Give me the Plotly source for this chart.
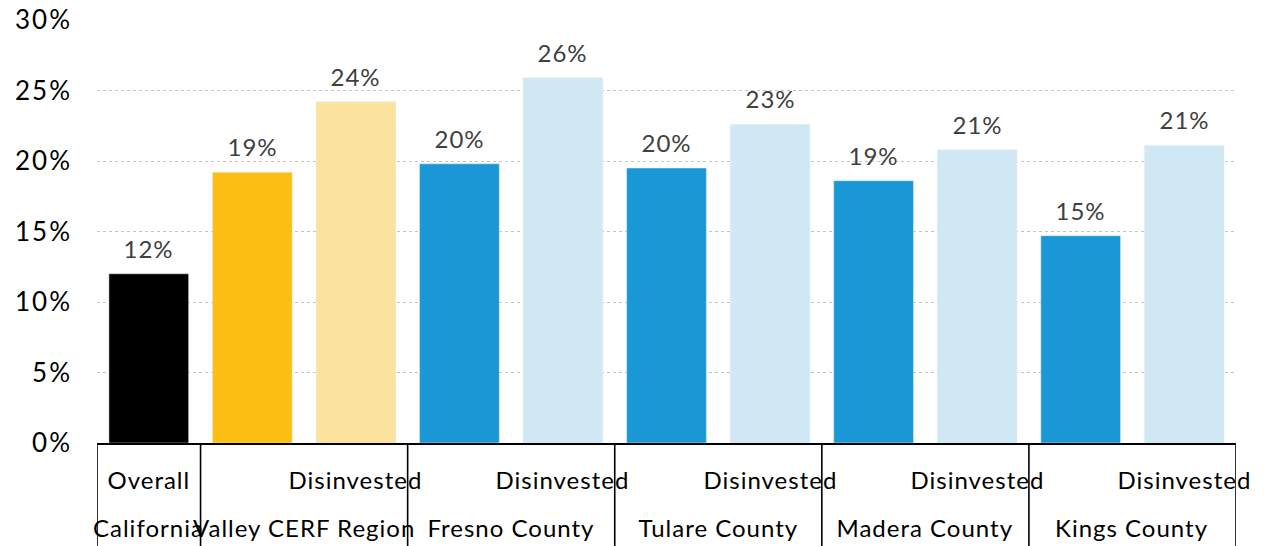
import plotly.graph_objects as go

groups = ["California", "Valley CERF Region", "Fresno County", "Tulare County", "Madera County", "Kings County"]
sub_labels = ["Overall", "", "Disinvested", "", "Disinvested", "", "Disinvested", "", "Disinvested", "", "Disinvested"]
values = [12.0, 19.2, 24.2, 19.8, 25.9, 19.5, 22.6, 18.6, 20.8, 14.7, 21.1]
colors = ["#000000", "#FDBE14", "#FBE29D", "#1A97D5", "#D0E7F4", "#1A97D5", "#D0E7F4",
          "#1A97D5", "#D0E7F4", "#1A97D5", "#D0E7F4"]
group_span = [1, 2, 2, 2, 2, 2]
y_ticks = [0, 5, 10, 15, 20, 25, 30]

xs = list(range(len(values)))

fig = go.Figure(go.Bar(
    x=xs, y=values, marker_color=colors, width=0.77, hoverinfo="skip",
))

annotations = []
for x, v in zip(xs, values):
    annotations.append(dict(x=x, y=v, xref="x", yref="y", text=f"{int(v + 0.5)}%", showarrow=False,
                            yanchor="bottom", yshift=9,
                            font=dict(family="Lato", size=24, color="#404040")))
for x, lab in zip(xs, sub_labels):
    if lab:
        annotations.append(dict(x=x, y=-0.086, xref="x", yref="paper", text=lab, showarrow=False,
                                font=dict(family="Lato", size=24, color="#000"), yanchor="middle"))
shapes = []
start = -0.5
shapes.append(dict(type="line", xref="x", yref="paper", x0=start, x1=start, y0=0, y1=-0.245,
                   line=dict(color="#000", width=1.6)))
for g, span in zip(groups, group_span):
    center = start + span / 2
    annotations.append(dict(x=center, y=-0.2, xref="x", yref="paper", text=g, showarrow=False,
                            font=dict(family="Lato", size=24, color="#000"), yanchor="middle"))
    start += span
    shapes.append(dict(type="line", xref="x", yref="paper", x0=start, x1=start, y0=0, y1=-0.245,
                       line=dict(color="#000", width=1.6)))

fig.update_layout(
    width=1264, height=546,
    margin=dict(l=97, r=28, t=20, b=103, autoexpand=False),
    plot_bgcolor="white", paper_bgcolor="white",
    showlegend=False,
    annotations=annotations, shapes=shapes,
    xaxis=dict(range=[-0.5, 10.5], showticklabels=False, showgrid=False, zeroline=False,
               showline=True, linecolor="#000", linewidth=1.6, ticks="", automargin=False),
    yaxis=dict(range=[0, 30], tickvals=y_ticks, ticktext=[f"{v}%" for v in y_ticks],
               showgrid=True, gridcolor="#C4C4C4", griddash="dot", gridwidth=1,
               zeroline=False, showline=False, ticklabelstandoff=24, automargin=False,
               tickfont=dict(family="Lato", size=26, color="#000")),
)

post = """
(function(){
  var gd = document.getElementById('{plot_id}');
  function sp(){
    gd.querySelectorAll('.ytick text').forEach(function(t){ t.style.letterSpacing = '2px'; });
    gd.querySelectorAll('.annotation-text').forEach(function(t){ t.style.letterSpacing = '1px'; });
  }
  sp();
  setTimeout(sp, 0);
  if (gd.on) gd.on('plotly_afterplot', sp);
})();
"""

fig.write_html("out.html", post_script=post)
